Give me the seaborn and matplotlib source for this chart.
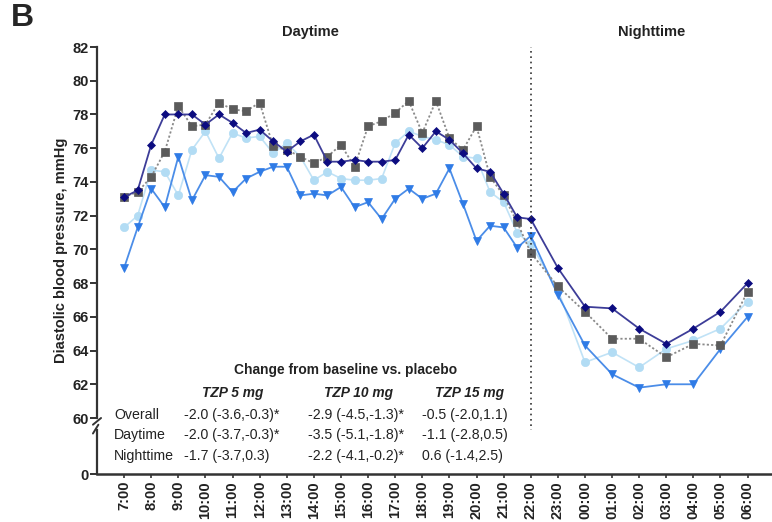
import numpy as np
import pandas as pd
import matplotlib
matplotlib.use("Agg")
import matplotlib.pyplot as plt
import seaborn as sns

# ---------------- data ----------------
times = ["7:00", "7:30", "8:00", "8:30", "9:00", "9:30", "10:00", "10:30", "11:00", "11:30",
         "12:00", "12:30", "13:00", "13:30", "14:00", "14:30", "15:00", "15:30", "16:00", "16:30",
         "17:00", "17:30", "18:00", "18:30", "19:00", "19:30", "20:00", "20:30", "21:00", "21:30",
         "22:00", "23:00", "00:00", "01:00", "02:00", "03:00", "04:00", "05:00", "06:00"]

navy_diamond = [73.1, 73.5, 76.2, 78.0, 78.0, 78.0, 77.4, 78.0, 77.5, 76.9,
                77.1, 76.4, 75.8, 76.4, 76.8, 75.2, 75.2, 75.3, 75.2, 75.2,
                75.3, 76.8, 76.0, 77.0, 76.5, 75.7, 74.8, 74.6, 73.3, 71.9,
                71.8, 68.9, 66.6, 66.5, 65.3, 64.4, 65.3, 66.3, 68.0]

gray_square = [73.1, 73.4, 74.3, 75.8, 78.5, 77.3, 77.4, 78.7, 78.3, 78.2,
               78.7, 76.1, 75.9, 75.5, 75.1, 75.5, 76.2, 74.9, 77.3, 77.6,
               78.1, 78.8, 76.9, 78.8, 76.6, 75.9, 77.3, 74.3, 73.2, 71.6,
               69.8, 67.8, 66.3, 64.7, 64.7, 63.6, 64.4, 64.3, 67.5]

light_circle = [71.3, 72.0, 74.7, 74.6, 73.2, 75.9, 77.0, 75.4, 76.9, 76.6,
                76.7, 75.7, 76.3, 75.5, 74.1, 74.6, 74.2, 74.1, 74.1, 74.2,
                76.3, 77.0, 76.7, 76.5, 76.2, 75.5, 75.4, 73.4, 72.8, 71.0,
                70.3, 67.6, 63.3, 63.9, 63.0, 64.1, 64.6, 65.3, 66.9]

blue_triangle = [68.9, 71.3, 73.6, 72.5, 75.5, 72.9, 74.4, 74.3, 73.4, 74.2,
                 74.6, 74.9, 74.9, 73.2, 73.3, 73.2, 73.7, 72.5, 72.8, 71.8,
                 73.0, 73.6, 73.0, 73.3, 74.8, 72.7, 70.5, 71.4, 71.3, 70.1,
                 70.8, 67.3, 64.3, 62.6, 61.8, 62.0, 62.0, 64.1, 66.0]

tick_labels = ["7:00", "8:00", "9:00", "10:00", "11:00", "12:00", "13:00", "14:00", "15:00",
               "16:00", "17:00", "18:00", "19:00", "20:00", "21:00", "22:00", "23:00", "00:00",
               "01:00", "02:00", "03:00", "04:00", "05:00", "06:00"]

y_ticks_top = [60, 62, 64, 66, 68, 70, 72, 74, 76, 78, 80, 82]
y_ticks_bottom = [0]

table_title = "Change from baseline vs. placebo"
table_cols = ["TZP 5 mg", "TZP 10 mg", "TZP 15 mg"]
table_rows = ["Overall", "Daytime", "Nighttime"]
table_tzp5 = ["-2.0 (-3.6,-0.3)*", "-2.0 (-3.7,-0.3)*", "-1.7 (-3.7,0.3)"]
table_tzp10 = ["-2.9 (-4.5,-1.3)*", "-3.5 (-5.1,-1.8)*", "-2.2 (-4.1,-0.2)*"]
table_tzp15 = ["-0.5 (-2.0,1.1)", "-1.1 (-2.8,0.5)", "0.6 (-1.4,2.5)"]

period_labels = ["Daytime", "Nighttime"]
panel_letter = "B"
y_label = "Diastolic blood pressure, mmHg"


def to_hours(t):
    h, m = t.split(":")
    v = int(h) + int(m) / 60.0
    return (v - 7) % 24


x_pos = [to_hours(t) for t in times]
tick_pos = [to_hours(t) for t in tick_labels]
split_x = to_hours("22:00")

# ---------------- style ----------------
sns.set_style("ticks")
plt.rcParams["font.family"] = ["Liberation Sans", "DejaVu Sans"]
axis_col = "#333333"
txt_col = "#222222"

fig = plt.figure(figsize=(7.72, 5.22), dpi=100)
W, H = 772.0, 522.0
left = 97 / W
ax = fig.add_axes([left, (H - 418) / H, 1 - left, (418 - 47) / H])
axb = fig.add_axes([left, (H - 474) / H, 1 - left, (474 - 430) / H])

series = [
    (light_circle, "#b2dcf4", "o", 6.0, "-", "#c0e2f6", 1.2),
    (blue_triangle, "#2f7be6", "v", 5.8, "-", "#4b8de8", 1.3),
    (gray_square, "#5b5b5b", "s", 5.8, (0, (1.2, 1.2)), "#8a8a8a", 1.3),
    (navy_diamond, "#0c0c80", "D", 4.2, "-", "#3d3d98", 1.3),
]
for vals, mcol, mk, ms, ls, lcol, lw in series:
    df = pd.DataFrame({"x": x_pos, "y": vals})
    sns.lineplot(data=df, x="x", y="y", ax=ax, color=lcol, linestyle=ls, linewidth=lw,
                 marker=mk, markersize=ms, markerfacecolor=mcol, markeredgecolor=mcol,
                 markeredgewidth=0.5, sort=False)

xlim = (-1.0, 23.9)
ax.set_xlim(*xlim)
axb.set_xlim(*xlim)
ax.set_ylim(60, 82)
axb.set_ylim(0, 1)

ax.set_yticks(y_ticks_top)
ax.set_yticklabels([str(v) for v in y_ticks_top])
axb.set_yticks(y_ticks_bottom)
axb.set_yticklabels([str(v) for v in y_ticks_bottom])

ax.set_xticks([])
axb.set_xticks(tick_pos)
axb.set_xticklabels(tick_labels, rotation=90)

for a in (ax, axb):
    a.set_xlabel("")
    a.set_ylabel("")
    sns.despine(ax=a, top=True, right=True)
    a.spines["left"].set_color(axis_col)
    a.spines["left"].set_linewidth(1.6)
    a.tick_params(axis="y", length=5, width=1.4, color=axis_col, pad=1,
                  labelsize=10.5, labelcolor=txt_col)
    for lab in a.get_yticklabels():
        lab.set_fontweight("bold")
ax.spines["bottom"].set_visible(False)
axb.spines["bottom"].set_color(axis_col)
axb.spines["bottom"].set_linewidth(1.8)
axb.tick_params(axis="x", length=3, width=1.2, color=axis_col, pad=2,
                labelsize=10.5, labelcolor=txt_col)
for lab in axb.get_xticklabels():
    lab.set_fontweight("bold")

# dotted separator between day and night
ax.axvline(split_x, ymin=-(474 - 418) / (418 - 47), ymax=1.0, color="#333333",
           linestyle=(0, (1, 2.2)), linewidth=1.2, clip_on=False)

# axis break marks
ax.plot([-0.006, 0.006], [-0.018, 0.0], transform=ax.transAxes, color=axis_col,
        lw=1.4, clip_on=False)
axb.plot([-0.006, 0.002], [0.92, 1.12], transform=axb.transAxes, color=axis_col,
         lw=1.4, clip_on=False)

# titles / labels
fig.text(11 / W, 1 - 18 / H, panel_letter, fontsize=23, fontweight="bold", va="center", ha="left")
fig.text(310 / W, 1 - 32 / H, period_labels[0], fontsize=10.5, fontweight="bold",
         ha="center", va="center", color=txt_col)
fig.text(652 / W, 1 - 32 / H, period_labels[1], fontsize=10.5, fontweight="bold",
         ha="center", va="center", color=txt_col)
fig.text(61 / W, 1 - 250 / H, y_label, rotation=90, fontsize=10.5, fontweight="bold",
         ha="center", va="center", color=txt_col)

# table of changes
fig.text(346 / W, 1 - 370 / H, table_title, fontsize=9.9, fontweight="bold",
         ha="center", va="center", color=txt_col)
col_centers = [233, 359, 469]
for c, name in zip(col_centers, table_cols):
    fig.text(c / W, 1 - 393 / H, name, fontsize=9.9, fontweight="bold", style="italic",
             ha="center", va="center", color=txt_col)
row_y = [415, 435, 456]
col_left = [184, 308, 422]
for i, rlab in enumerate(table_rows):
    fig.text(114 / W, 1 - row_y[i] / H, rlab, fontsize=10.2,
             ha="left", va="center", color=txt_col)
    for cl, vals in zip(col_left, [table_tzp5, table_tzp10, table_tzp15]):
        fig.text(cl / W, 1 - row_y[i] / H, vals[i], fontsize=10.2,
                 ha="left", va="center", color=txt_col)

fig.savefig("out.png", dpi=100)
